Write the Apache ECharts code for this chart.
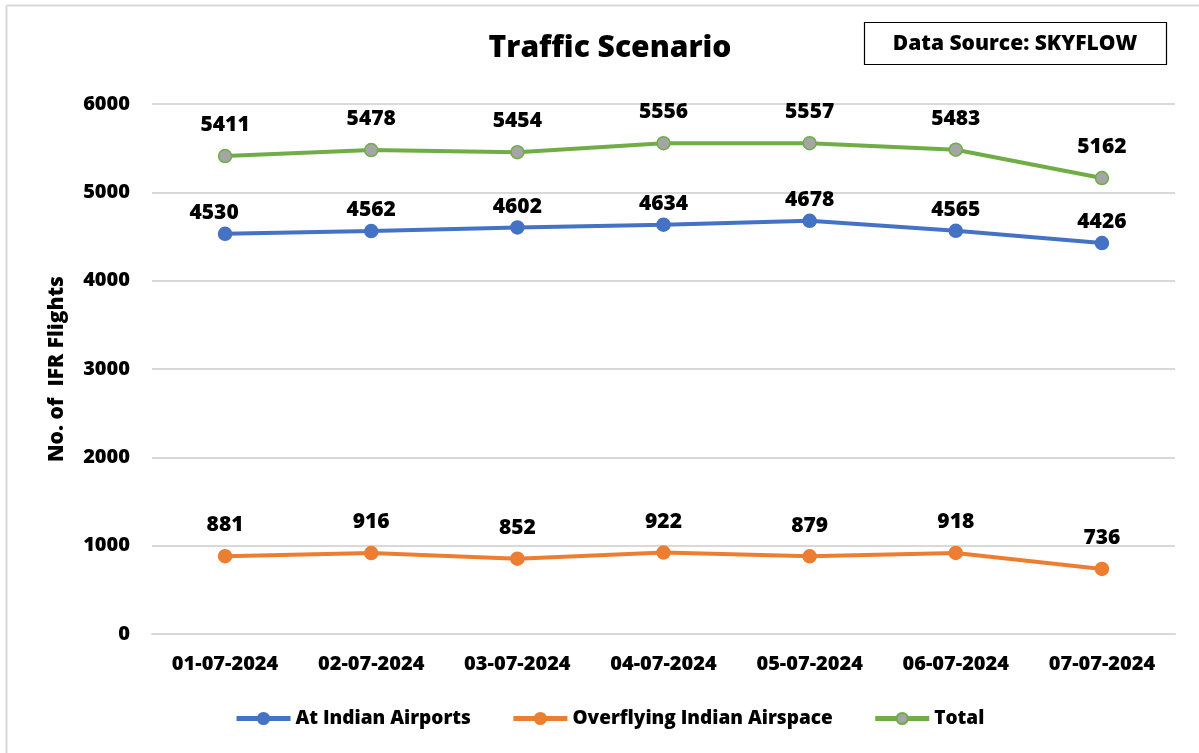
<!DOCTYPE html>
<html>
<head>
    <meta charset="UTF-8">
    <script src="https://cdn.jsdelivr.net/npm/echarts@6/dist/echarts.min.js"></script>
    <style>
        html, body { margin: 0; padding: 0; background: #fff; }
        #main { width: 1199px; height: 753px; }
    </style>
</head>
<body>
    <div id="main"></div>
    <script>
        // 数据
        var dates = ['01-07-2024', '02-07-2024', '03-07-2024', '04-07-2024', '05-07-2024', '06-07-2024', '07-07-2024'];
        var airports = [4530, 4562, 4602, 4634, 4678, 4565, 4426];
        var overflying = [881, 916, 852, 922, 879, 918, 736];
        var total = [5411, 5478, 5454, 5556, 5557, 5483, 5162];

        var FONT = '"Open Sans", "Noto Sans", sans-serif';
        var W = 800;

        var myChart = echarts.init(document.getElementById('main'));

        function lineSeries(name, data, color, fill, dist, firstOffset) {
            return {
                name: name,
                type: 'line',
                data: data.map(function (v, i) {
                    // 第一个标签稍微左移(与原图一致)
                    if (i === 0 && firstOffset) {
                        return { value: v, label: { offset: [firstOffset, 0] } };
                    }
                    return v;
                }),
                symbol: 'circle',
                symbolSize: 13,
                lineStyle: { color: color, width: 4 },
                itemStyle: { color: fill || color, borderColor: color, borderWidth: 1.5 },
                label: {
                    show: true,
                    position: 'top',
                    distance: dist,
                    color: '#000',
                    fontWeight: W,
                    fontSize: 21,
                    fontFamily: FONT
                }
            };
        }

        option = {
            backgroundColor: '#fff',
            animation: false,
            title: {
                text: 'Traffic Scenario',
                left: 605,
                textAlign: 'center',
                top: 28,
                textStyle: { fontSize: 30, fontWeight: W, color: '#000', fontFamily: FONT }
            },
            graphic: [
                // 外框(左,上)
                { type: 'line', shape: { x1: 6.5, y1: 5.5, x2: 1199, y2: 5.5 }, style: { stroke: '#d9d9d9', lineWidth: 2 } },
                { type: 'line', shape: { x1: 6.5, y1: 5.5, x2: 6.5, y2: 753 }, style: { stroke: '#d9d9d9', lineWidth: 2 } },
                // 数据来源框
                {
                    type: 'rect',
                    shape: { x: 864.5, y: 22.5, width: 302, height: 42 },
                    style: { fill: '#fff', stroke: '#000', lineWidth: 1.2 }
                },
                {
                    type: 'text',
                    x: 1015, y: 44,
                    style: {
                        text: 'Data Source: SKYFLOW',
                        align: 'center', verticalAlign: 'middle',
                        font: W + ' 21px ' + FONT, fill: '#000'
                    }
                }
            ],
            legend: {
                bottom: 20,
                left: 229,
                itemWidth: 54,
                itemHeight: 14,
                itemGap: 40,
                lineStyle: { width: 5 },
                textStyle: { fontSize: 19, fontWeight: W, color: '#000', fontFamily: FONT },
                data: ['At Indian Airports', 'Overflying Indian Airspace', 'Total']
            },
            grid: { left: 152, right: 24, top: 104, bottom: 119 },
            xAxis: {
                type: 'category',
                data: dates,
                boundaryGap: true,
                axisLine: { show: true, lineStyle: { color: '#d9d9d9', width: 2 } },
                axisTick: { show: false },
                axisLabel: { color: '#000', fontWeight: W, fontSize: 20, fontFamily: FONT, margin: 20 }
            },
            yAxis: {
                type: 'value',
                min: 0,
                max: 6000,
                interval: 1000,
                name: 'No. of  IFR Flights',
                nameLocation: 'middle',
                nameGap: 84,
                nameRotate: 90,
                nameTextStyle: { color: '#000', fontWeight: W, fontSize: 21, fontFamily: FONT },
                axisLine: { show: false },
                axisTick: { show: false },
                axisLabel: {
                    color: '#000', fontWeight: W, fontSize: 20, fontFamily: FONT, margin: 22,
                    formatter: function (v) { return String(v); }
                },
                splitLine: { lineStyle: { color: '#d9d9d9', width: 2 } }
            },
            series: [
                lineSeries('At Indian Airports', airports, '#4472C4', null, 3, -11),
                lineSeries('Overflying Indian Airspace', overflying, '#ED7D31', null, 13),
                lineSeries('Total', total, '#70AD47', '#A5A5A5', 13)
            ]
        };

        myChart.setOption(option);
    </script>
</body>
</html>
